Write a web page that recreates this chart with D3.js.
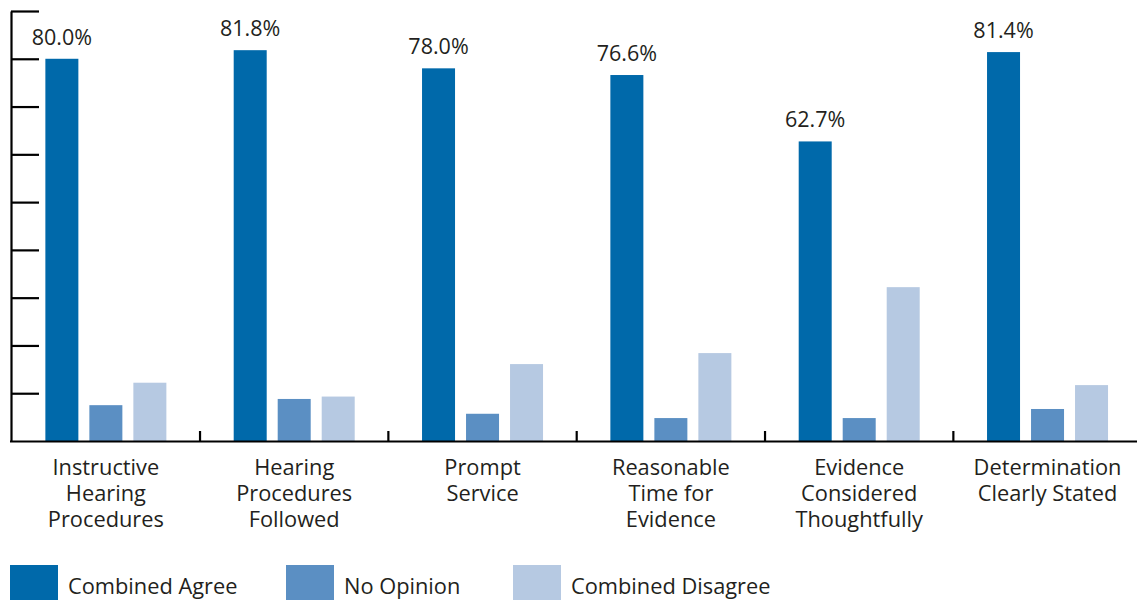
<!DOCTYPE html>
<html>
<head>
<meta charset="utf-8">
<script src="https://cdn.jsdelivr.net/npm/d3@7"></script>
<style>
  html, body { margin: 0; padding: 0; background: #fff; }
  svg { display: block; font-family: "Open Sans", "Noto Sans", sans-serif; }
</style>
</head>
<body>
<svg id="chart" width="1137" height="600"></svg>
<script>
// ---- data ----
const categories = [
  "Instructive Hearing Procedures",
  "Hearing Procedures Followed",
  "Prompt Service",
  "Reasonable Time for Evidence",
  "Evidence Considered Thoughtfully",
  "Determination Clearly Stated"
];
const categoryLines = [
  ["Instructive", "Hearing", "Procedures"],
  ["Hearing", "Procedures", "Followed"],
  ["Prompt", "Service"],
  ["Reasonable", "Time for", "Evidence"],
  ["Evidence", "Considered", "Thoughtfully"],
  ["Determination", "Clearly Stated"]
];
const series = ["Combined Agree", "No Opinion", "Combined Disagree"];
const combinedAgree    = [80.0, 81.8, 78.0, 76.6, 62.7, 81.4];
const noOpinion        = [7.5, 8.8, 5.7, 4.8, 4.8, 6.7];
const combinedDisagree = [12.2, 9.3, 16.1, 18.4, 32.2, 11.7];
const yTicks = [10, 20, 30, 40, 50, 60, 70, 80, 90];
const colors = ["#0069aa", "#5b8fc3", "#b6c9e2"];

const seriesValues = [combinedAgree, noOpinion, combinedDisagree];
const rows = categories.map((c, i) => ({
  cat: c, lines: categoryLines[i],
  vals: series.map((s, k) => ({ s, k, v: seriesValues[k][i] }))
}));

// ---- layout ----
const svg = d3.select("#chart");
const ink = "#231f20";
const baseY = 441, topY = 11;
const y = d3.scaleLinear().domain([0, 90]).range([baseY, topY]);
const x0 = d3.scaleBand().domain(categories).range([11.7, 1141.7]).paddingInner(0).paddingOuter(0);
const groupW = 121;
const x1 = d3.scaleBand().domain(series)
  .range([(x0.bandwidth() - groupW) / 2, (x0.bandwidth() + groupW) / 2])
  .paddingInner(0.25).paddingOuter(0);
const color = d3.scaleOrdinal().domain(series).range(colors);

// bars
const g = svg.append("g");
const groups = g.selectAll("g.grp").data(rows).enter().append("g")
  .attr("class", "grp")
  .attr("transform", d => `translate(${x0(d.cat)},0)`);
groups.selectAll("rect").data(d => d.vals).enter().append("rect")
  .attr("x", d => x1(d.s))
  .attr("width", x1.bandwidth())
  .attr("y", d => y(d.v))
  .attr("height", d => y(0) - y(d.v))
  .attr("fill", d => color(d.s));

// value labels above agree bars
groups.append("text")
  .attr("x", x1(series[0]) + x1.bandwidth() / 2)
  .attr("y", d => y(d.vals[0].v) - 14)
  .attr("text-anchor", "middle")
  .attr("font-size", 21.5)
  .attr("fill", ink)
  .text(d => d.vals[0].v.toFixed(1) + "%");

// y axis (ticks pointing into the plot)
const yAxis = d3.axisRight(y).tickValues(yTicks).tickSize(28).tickSizeOuter(0).tickFormat("");
const yg = svg.append("g").attr("transform", "translate(11,0)").call(yAxis);
yg.selectAll("path, line").attr("stroke", "#000").attr("stroke-width", 2.2);

// x axis line + separator ticks
const xa = svg.append("g");
xa.append("line").attr("x1", 10).attr("x2", 1137).attr("y1", baseY + 0.5).attr("y2", baseY + 0.5)
  .attr("stroke", "#000").attr("stroke-width", 2.2);
const sepX = categories.slice(1).map(c => x0(c)).concat([x0(categories[categories.length - 1]) + x0.bandwidth()]);
xa.selectAll("line.sep").data(sepX).enter().append("line")
  .attr("class", "sep")
  .attr("x1", d => d).attr("x2", d => d)
  .attr("y1", baseY - 10).attr("y2", baseY + 0.5)
  .attr("stroke", "#000").attr("stroke-width", 2.2);

// category labels
const lab = svg.append("g").selectAll("text").data(rows).enter().append("text")
  .attr("text-anchor", "middle")
  .attr("font-size", 21.8)
  .attr("fill", ink)
  .attr("transform", d => `translate(${x0(d.cat) + x0.bandwidth() / 2},475)`);
lab.selectAll("tspan").data(d => d.lines).enter().append("tspan")
  .attr("x", 0).attr("y", (d, i) => i * 26)
  .text(d => d);

// legend
const legX = [10, 286, 513];
const leg = svg.append("g").selectAll("g").data(series).enter().append("g")
  .attr("transform", (d, i) => `translate(${legX[i]},565)`);
leg.append("rect").attr("width", 48).attr("height", 36).attr("fill", d => color(d));
leg.append("text").attr("x", 58).attr("y", 29).attr("font-size", 21.8).attr("fill", ink).text(d => d);
</script>
</body>
</html>
